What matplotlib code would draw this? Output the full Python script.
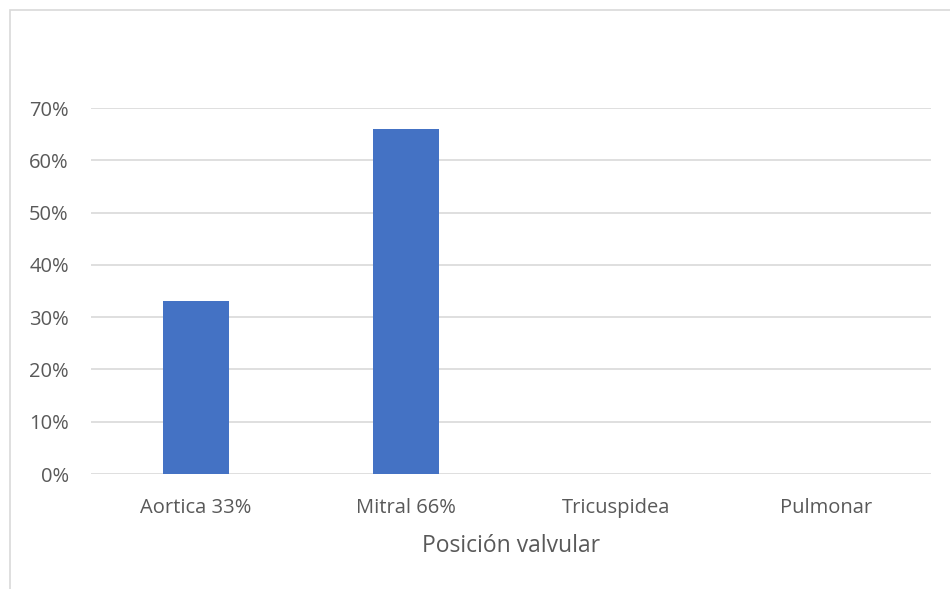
import matplotlib.pyplot as plt
from matplotlib.patches import Rectangle
import numpy as np

plt.rcParams['font.family'] = ['Open Sans', 'DejaVu Sans']

categories = ["Aortica 33%", "Mitral 66%", "Tricuspidea", "Pulmonar"]
values = [0.33, 0.66, 0.0, 0.0]
yticks = [0.0, 0.1, 0.2, 0.3, 0.4, 0.5, 0.6, 0.7]
ytick_labels = ["0%", "10%", "20%", "30%", "40%", "50%", "60%", "70%"]

fig = plt.figure(figsize=(9.5, 5.89), dpi=100)
# chart border (Excel style), partially cropped on right/bottom
fig.patches.append(Rectangle((10 / 950, -0.1), 1.2, 1 - 10 / 589 + 0.1,
                             transform=fig.transFigure, fill=False,
                             edgecolor="#d9d9d9", linewidth=1.2))

ax = fig.add_axes([91 / 950, 1 - 474 / 589, (931 - 91) / 950, (474 - 108) / 589])
x = np.arange(len(categories))
ax.bar(x, values, width=0.314, color="#4472C4", zorder=3)
ax.set_xlim(-0.5, len(categories) - 0.5)
ax.set_ylim(0, 0.7)
ax.set_yticks(yticks)
ax.set_yticklabels(ytick_labels)
ax.set_xticks(x)
ax.set_xticklabels(categories)
ax.grid(axis="y", color="#d9d9d9", linewidth=1.2, zorder=0)
for s in ax.spines.values():
    s.set_visible(False)
ax.tick_params(axis="both", length=0, labelsize=14.5, colors="#595959")
ax.tick_params(axis="x", pad=17.5)
ax.tick_params(axis="y", pad=16)
ax.set_xlabel("Posición valvular", fontsize=16.5, color="#595959", labelpad=11)

fig.savefig("out.png", dpi=100)
